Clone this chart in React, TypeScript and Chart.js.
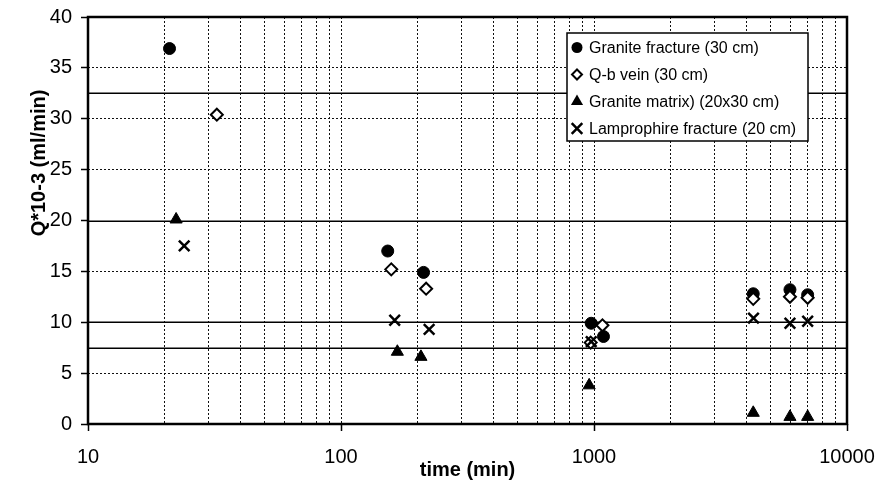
import React, { useEffect, useRef } from 'react';
import { Chart, registerables } from 'chart.js';

Chart.register(...registerables);

// ---- Data ----
const seriesNames = [
  'Granite fracture (30 cm)',
  'Q-b vein (30 cm)',
  'Granite matrix) (20x30 cm)',
  'Lamprophire fracture (20 cm)',
];

const graniteFractureTime = [21, 153, 212, 975, 1090, 4260, 5950, 6990];
const graniteFractureQ = [36.9, 17.0, 14.9, 9.9, 8.6, 12.8, 13.2, 12.7];

const qbVeinTime = [32.3, 158, 217, 970, 1080, 4260, 5950, 6990];
const qbVeinQ = [30.4, 15.2, 13.3, 8.0, 9.7, 12.3, 12.5, 12.4];

const graniteMatrixTime = [22.3, 167, 207, 957, 4260, 5950, 6990];
const graniteMatrixQ = [20.1, 7.1, 6.6, 3.8, 1.1, 0.7, 0.7];

const lamprophireTime = [24, 163, 223, 975, 4270, 5950, 6990];
const lamprophireQ = [17.5, 10.2, 9.3, 8.1, 10.4, 9.9, 10.1];

// x axis (log) grid positions and labelled ticks
const xGridValues = [
  10, 20, 30, 40, 50, 60, 70, 80, 90,
  100, 200, 300, 400, 500, 600, 700, 800, 900,
  1000, 2000, 3000, 4000, 5000, 6000, 7000, 8000, 9000,
  10000,
];
const xLabelValues = [10, 100, 1000, 10000];

// y axis
const yMin = 0;
const yMax = 40;
const yGridStep = 2.5;
const yLabelStep = 5;
const ySolidGridValues = [7.5, 10, 20, 32.5];

const xTitle = 'time (min)';
const yTitle = 'Q*10-3 (ml/min)';

const FONT = "'Liberation Sans', Arial, Helvetica, sans-serif";

const zip = (xs: number[], ys: number[]) => xs.map((x, i) => ({ x, y: ys[i] }));
const isSolid = (v: number) => ySolidGridValues.some((s) => Math.abs(s - v) < 1e-6);

type MarkerKind = 'circle' | 'diamond' | 'triangle' | 'cross';
const markerKinds: MarkerKind[] = ['circle', 'diamond', 'triangle', 'cross'];

function drawMarker(ctx: CanvasRenderingContext2D, kind: MarkerKind, x: number, y: number) {
  ctx.save();
  ctx.strokeStyle = '#000';
  ctx.fillStyle = '#000';
  ctx.beginPath();
  if (kind === 'circle') {
    ctx.arc(x, y, 5.5, 0, Math.PI * 2);
    ctx.fill();
  } else if (kind === 'diamond') {
    const r = 5;
    ctx.moveTo(x, y - r);
    ctx.lineTo(x + r, y);
    ctx.lineTo(x, y + r);
    ctx.lineTo(x - r, y);
    ctx.closePath();
    ctx.fillStyle = '#fff';
    ctx.fill();
    ctx.lineWidth = 2;
    ctx.stroke();
  } else if (kind === 'triangle') {
    const r = 7;
    ctx.moveTo(x, y - r);
    ctx.lineTo(x + r * 0.866, y + r * 0.5);
    ctx.lineTo(x - r * 0.866, y + r * 0.5);
    ctx.closePath();
    ctx.fill();
  } else {
    const h = 5.3;
    ctx.lineWidth = 2.5;
    ctx.moveTo(x - h, y - h);
    ctx.lineTo(x + h, y + h);
    ctx.moveTo(x + h, y - h);
    ctx.lineTo(x - h, y + h);
    ctx.stroke();
  }
  ctx.restore();
}

const frameAndLegendPlugin = {
  id: 'frameAndLegend',
  beforeDatasetsDraw(chart: any) {
    const { ctx, chartArea } = chart;
    const yScale = chart.scales.y;
    ctx.save();
    // solid horizontal grid lines
    ctx.strokeStyle = '#000';
    ctx.lineWidth = 1.5;
    ctx.setLineDash([]);
    ySolidGridValues.forEach((v) => {
      const py = Math.round(yScale.getPixelForValue(v)) + 0.25;
      ctx.beginPath();
      ctx.moveTo(chartArea.left, py);
      ctx.lineTo(chartArea.right, py);
      ctx.stroke();
    });
    // frame
    ctx.lineWidth = 2.5;
    ctx.strokeRect(chartArea.left, chartArea.top, chartArea.right - chartArea.left, chartArea.bottom - chartArea.top);
    ctx.restore();
  },
  afterDraw(chart: any) {
    const { ctx, chartArea } = chart;
    // y axis title (placed like the reference, above the axis centre)
    ctx.save();
    ctx.font = `bold 20px ${FONT}`;
    ctx.fillStyle = '#000';
    ctx.textAlign = 'center';
    ctx.textBaseline = 'middle';
    ctx.translate(39, chartArea.top + 146);
    ctx.rotate(-Math.PI / 2);
    ctx.fillText(yTitle, 0, 0);
    ctx.restore();

    // legend box
    const boxW = 241;
    const boxH = 108;
    const bx = chartArea.right - 39 - boxW;
    const by = chartArea.top + 16;
    ctx.save();
    ctx.fillStyle = '#fff';
    ctx.fillRect(bx, by, boxW, boxH);
    ctx.strokeStyle = '#000';
    ctx.lineWidth = 1.5;
    ctx.strokeRect(bx, by, boxW, boxH);
    ctx.font = `16px ${FONT}`;
    ctx.textBaseline = 'middle';
    ctx.textAlign = 'left';
    seriesNames.forEach((name, i) => {
      const cy = by + 14.5 + i * 27;
      drawMarker(ctx, markerKinds[i], bx + 10, cy);
      ctx.fillStyle = '#000';
      ctx.fillText(name, bx + 22, cy + 1);
    });
    ctx.restore();
  },
};

export default function App() {
  const canvasRef = useRef<HTMLCanvasElement | null>(null);

  useEffect(() => {
    if (!canvasRef.current) return;
    Chart.defaults.font.family = FONT;
    Chart.defaults.color = '#000';

    const chart = new Chart(canvasRef.current, {
      type: 'scatter',
      data: {
        datasets: [
          {
            label: seriesNames[0],
            data: zip(graniteFractureTime, graniteFractureQ),
            pointStyle: 'circle',
            pointRadius: 6,
            backgroundColor: '#000',
            borderColor: '#000',
            borderWidth: 1,
            order: 4,
          },
          {
            label: seriesNames[1],
            data: zip(qbVeinTime, qbVeinQ),
            pointStyle: 'rectRot',
            pointRadius: 6,
            backgroundColor: '#fff',
            borderColor: '#000',
            borderWidth: 2,
            order: 3,
          },
          {
            label: seriesNames[2],
            data: zip(graniteMatrixTime, graniteMatrixQ),
            pointStyle: 'triangle',
            pointRadius: 7,
            backgroundColor: '#000',
            borderColor: '#000',
            borderWidth: 1,
            order: 2,
          },
          {
            label: seriesNames[3],
            data: zip(lamprophireTime, lamprophireQ),
            pointStyle: 'crossRot',
            pointRadius: 7.5,
            backgroundColor: '#000',
            borderColor: '#000',
            borderWidth: 2.5,
            order: 1,
          },
        ],
      },
      options: {
        animation: false,
        responsive: false,
        events: [],
        layout: { padding: { left: 0, right: 31, top: 17, bottom: 0 } },
        plugins: {
          legend: { display: false },
          tooltip: { enabled: false },
          title: { display: false },
        },
        scales: {
          x: {
            type: 'logarithmic',
            min: 10,
            max: 10000,
            afterBuildTicks: (scale: any) => {
              scale.ticks = xGridValues.map((v) => ({ value: v, major: false }));
            },
            afterFit: (scale: any) => {
              scale.height = 59;
              scale.paddingLeft = 0;
              scale.paddingRight = 0;
            },
            ticks: {
              autoSkip: false,
              maxRotation: 0,
              minRotation: 0,
              padding: 14,
              font: { size: 20 },
              color: '#000',
              callback: (value: any) => (xLabelValues.includes(Number(value)) ? String(value) : ''),
            },
            grid: {
              color: '#111',
              lineWidth: 1,
              tickLength: 7,
              tickColor: (ctx: any) =>
                ctx.tick && xLabelValues.includes(ctx.tick.value) ? '#000' : 'rgba(0,0,0,0)',
              tickWidth: 1.5,
            },
            border: {
              display: false,
              dash: [2, 2],
            },
            title: {
              display: true,
              text: xTitle,
              font: { size: 20, weight: 'bold' },
              color: '#000',
              padding: { top: 0, bottom: 1 },
            },
          },
          y: {
            type: 'linear',
            min: yMin,
            max: yMax,
            afterFit: (scale: any) => {
              scale.width = 88;
              scale.paddingTop = 0;
              scale.paddingBottom = 0;
            },
            ticks: {
              stepSize: yGridStep,
              padding: 9,
              font: { size: 20 },
              color: '#000',
              callback: (value: any) => (Number(value) % yLabelStep === 0 ? String(value) : ''),
            },
            grid: {
              color: (ctx: any) => (ctx.tick && isSolid(ctx.tick.value) ? 'rgba(0,0,0,0)' : '#111'),
              lineWidth: 1,
              tickLength: 7,
              tickColor: (ctx: any) =>
                ctx.tick && ctx.tick.value % yLabelStep === 0 ? '#000' : 'rgba(0,0,0,0)',
              tickWidth: 1.5,
            },
            border: {
              display: false,
              dash: [2, 2],
            },
            title: {
              display: false,
            },
          },
        },
      },
      plugins: [frameAndLegendPlugin],
    } as any);

    return () => chart.destroy();
  }, []);

  return (
    <div style={{ position: 'fixed', left: 0, top: 0, width: 878, height: 483, background: '#fff' }}>
      <canvas ref={canvasRef} width={878} height={483} style={{ display: 'block' }} />
    </div>
  );
}
